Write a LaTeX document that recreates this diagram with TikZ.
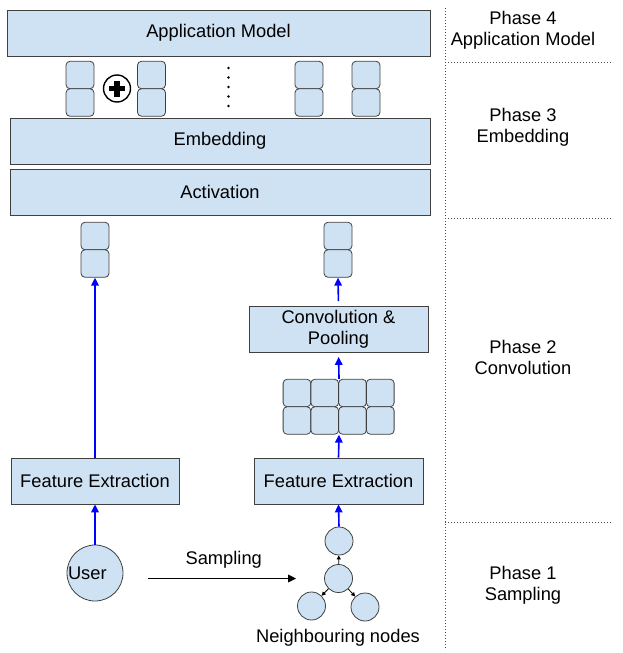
\documentclass[tikz,border=0pt]{standalone}
\usepackage{fontspec}
\setmainfont{Liberation Sans}
\usetikzlibrary{arrows.meta}

\definecolor{boxblue}{HTML}{CFE2F3}
\definecolor{edgegray}{HTML}{404040}

\tikzset{
  layer/.style={draw=edgegray, fill=boxblue, line width=0.8pt, inner sep=0pt},
  cell/.style={draw=edgegray, fill=boxblue, line width=0.8pt, rounded corners=4pt,
    minimum width=28pt, minimum height=27.5pt, inner sep=0pt},
  graphnode/.style={circle, draw=edgegray, fill=boxblue, line width=0.8pt,
    minimum size=28pt, inner sep=0pt},
  flow/.style={draw=blue, line width=1.6pt, -{Triangle[length=8pt,width=7.5pt]}},
  sample/.style={draw=black, line width=1.6pt, -{Triangle[length=8pt,width=7.5pt]}},
  hop/.style={draw=black, line width=0.8pt, -{Triangle[length=4pt,width=4pt]}},
  phase/.style={align=center},
  divider/.style={draw=black!70, line width=0.8pt, dash pattern=on 0.8pt off 2.2pt},
}

\begin{document}
\begin{tikzpicture}[x=1pt, y=-1pt, font=\fontsize{18.3}{21}\selectfont]
\useasboundingbox (0,0) rectangle (623,653);

% stacked layers
\node[layer, minimum width=423pt, minimum height=46pt] (app) at (218.5,33) {Application Model};
\node[layer, minimum width=420pt, minimum height=46pt] (emb) at (220,141) {Embedding};
\node[layer, minimum width=420pt, minimum height=46pt] (act) at (220,192) {Activation};

% embedding vectors between the layers
\foreach \x/\n in {80/a, 151.5/b, 309/c, 366/d} {
  \node[cell] (\n1) at (\x,75) {};
  \node[cell] (\n2) at (\x,102.5) {};
}
\node[circle, draw=black, fill=white, line width=1.4pt, minimum size=27pt] (plus) at (117,88.5) {};
\draw[line width=5.5pt] ([xshift=-8pt]plus.center) -- ([xshift=8pt]plus.center);
\draw[line width=5.5pt] ([yshift=-8pt]plus.center) -- ([yshift=8pt]plus.center);
\foreach \y in {68,77.5,87,96.5,106}
  \fill (228.5,\y) circle (1.4pt);

% user branch
\node[cell] (uvec1) at (95,236) {};
\node[cell] (uvec2) at (95,263.5) {};
\node[layer, minimum width=168pt, minimum height=46pt] (featL) at (95,481) {Feature Extraction};
\node[graphnode, minimum size=56pt, text width=54pt, align=left] (user) at (95,573) {User};

% neighbour branch
\node[cell] (nvec1) at (338,236) {};
\node[cell] (nvec2) at (338,263.5) {};
\node[layer, minimum width=179pt, minimum height=46pt, align=center] (conv) at (338.5,329.5) {Convolution \&\\Pooling};
\foreach \i in {0,...,3}
  \foreach \j in {0,1}
    \node[cell, minimum width=27.75pt] (g\i\j) at (297+27.75*\i,393+27.5*\j) {};
\node[layer, minimum width=169pt, minimum height=46pt] (featR) at (338.5,481) {Feature Extraction};

\node[graphnode] (ntop) at (339,541) {};
\node[graphnode] (nmid) at (338.5,578.5) {};
\node[graphnode] (nleft) at (311.5,606) {};
\node[graphnode] (nright) at (365,607) {};
\node (nlabel) at (338,638) {Neighbouring nodes};

% connectors
\draw[flow] (featL.north) -- (uvec2.south);
\draw[flow] (user.north) -- (featL.south);
\draw[flow] (ntop.north) -- (featR.south);
\draw[flow] (featR.north) -- (g11.south east);
\draw[flow, shorten >=4pt] (g10.north east) -- (conv.south);
\draw[flow, shorten <=5pt] (conv.north) -- (nvec2.south);
\draw[hop] (nmid) -- (ntop);
\draw[hop] (nmid) -- (nleft);
\draw[hop] (nmid) -- (nright);
\draw[sample, shorten <=25pt, shorten >=28pt] (user.east |- nmid.west) -- node[above=6pt] (samplabel) {Sampling} (nmid.west);

% phase separators
\coordinate (dtop) at (445,8);
\coordinate (dbot) at (445,650);
\draw[divider] (dtop) -- (dbot);
\foreach \y in {62,218,522}
  \draw[divider] (445,\y) -- (613,\y);
\node[phase] (p4) at (523,30.5) {Phase 4\\Application Model};
\node[phase] (p3) at (523,127) {Phase 3\\Embedding};
\node[phase] (p2) at (523,357) {Phase 2\\Convolution};
\node[phase] (p1) at (523,585) {Phase 1\\Sampling};
\end{tikzpicture}
\end{document}
